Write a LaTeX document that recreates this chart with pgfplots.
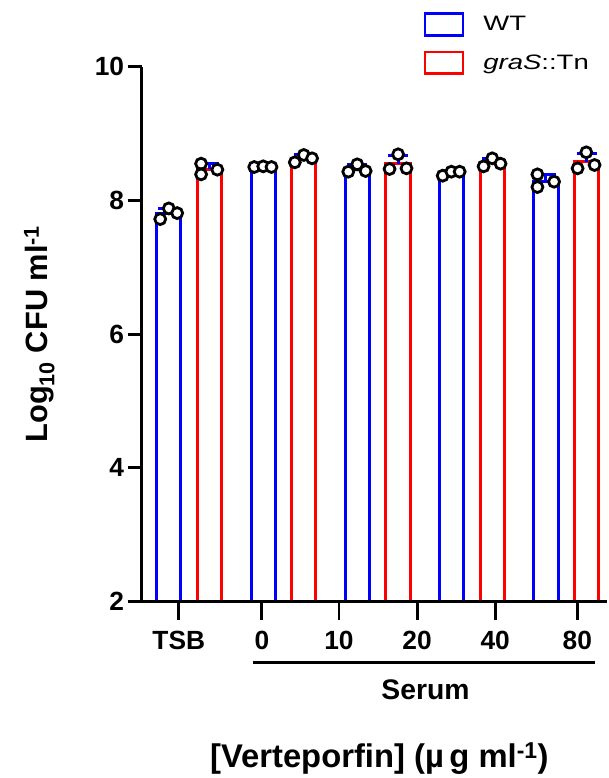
\documentclass[border=0pt]{standalone}
\usepackage{fontspec}
\setmainfont{Liberation Sans}
\usepackage{graphicx}
\usepackage{pgfplots}
\usepackage{pgfplotstable}
\pgfplotsset{compat=1.18}

% bar means (x in axis units, y = log10 CFU/ml, sd = upper error)
\pgfplotstableread{
x y sd
26.8 7.803 0.080
122.0 8.503 0.006
216.3 8.470 0.061
310.8 8.410 0.035
405.5 8.290 0.095
}\wtbars
\pgfplotstableread{
x y sd
67.8 8.467 0.080
162.5 8.627 0.055
257.2 8.547 0.124
351.8 8.563 0.061
446.3 8.577 0.127
}\grasbars
% single replicates
\pgfplotstableread{
x y
18.7 7.72
27.3 7.88
35.7 7.81
113.0 8.50
122.0 8.51
130.3 8.50
207.3 8.43
216.3 8.54
224.7 8.44
302.0 8.37
310.7 8.43
319.0 8.43
397.0 8.39
397.0 8.20
413.7 8.28
}\wtpts
\pgfplotstableread{
x y
59.7 8.55
59.7 8.39
76.0 8.46
153.7 8.57
162.7 8.68
171.0 8.63
248.7 8.47
257.3 8.69
265.7 8.48
343.0 8.51
351.7 8.63
360.0 8.55
437.3 8.48
446.0 8.72
454.3 8.53
}\graspts

\begin{document}
\begin{tikzpicture}
\path (-142bp,-175bp) rectangle (467bp,603bp);
\begin{axis}[
  scale only axis, width=467bp, height=536bp,
  xmin=0, xmax=467, ymin=2, ymax=10,
  axis x line=bottom, axis y line=left,
  axis line style={-, line width=3bp},
  axis on top,
  ytick={2,4,6,8,10},
  xtick={37.3,120.7,198,276.3,354.7,437},
  xticklabels={TSB,0,10,20,40,80},
  tick align=outside,
  major tick length=14bp,
  xtick style={/pgfplots/major tick length=19bp},
  tick style={line width=3bp, black},
  /pgf/number format/assume math mode=true,
  tick label style={font=\bfseries\fontsize{26.5}{26.5}\selectfont},
  xticklabel style={yshift=-12bp},
  ylabel={Log\textsubscript{10} CFU ml\textsuperscript{-1}},
  ylabel style={font=\bfseries\fontsize{31}{31}\selectfont,
    at={(axis description cs:-0.2013,0.5)}, anchor=base},
  xlabel={[Verteporfin] (µ\,g ml\textsuperscript{-1})},
  xlabel style={font=\bfseries\fontsize{33}{33}\selectfont,
    at={(axis description cs:0.5107,-0.3116)}, anchor=base},
  legend style={draw=none, fill=none, inner sep=0pt,
    at={(axis description cs:0.606,1.1026)}, anchor=north west,
    font=\fontsize{21}{24}\selectfont, row sep=14bp,
    nodes={inner sep=0pt},
    /tikz/every odd column/.append style={column sep=19bp}},
  legend cell align=left,
]
\addplot[ybar, bar width=24.3, bar shift=0pt, draw=blue, fill=white, line width=3bp,
  error bars/.cd, y dir=plus, y explicit,
  error bar style={blue, line width=3bp},
  error mark options={blue, line width=3bp, mark size=10bp, rotate=90},
  /pgfplots/legend image code/.code={\draw[blue, fill=white, line width=2.5bp] (0bp,-11bp) rectangle (38bp,11bp);}]
  table[x=x, y=y, y error=sd] {\wtbars};
\addlegendentry{\scalebox{1.32}[1]{WT}}
\addplot[ybar, bar width=24.3, bar shift=0pt, draw=red, fill=white, line width=3bp,
  error bars/.cd, y dir=plus, y explicit,
  error bar style={blue, line width=3bp},
  error mark options={blue, line width=3bp, mark size=10bp, rotate=90},
  /pgfplots/legend image code/.code={\draw[red, fill=white, line width=2.5bp] (0bp,-11bp) rectangle (38bp,11bp);}]
  table[x=x, y=y, y error=sd] {\grasbars};
\addlegendentry{\scalebox{1.32}[1]{\textit{graS}::Tn}}
\addplot[only marks, mark=*, mark size=5.5bp, mark options={fill=white, draw=black, line width=2.8bp}, forget plot]
  table[x=x, y=y] {\wtpts};
\addplot[only marks, mark=*, mark size=5.5bp, mark options={fill=white, draw=black, line width=2.8bp}, forget plot]
  table[x=x, y=y] {\graspts};
\end{axis}
\draw[line width=3bp] (111.3bp,-61.3bp) -- (454.7bp,-61.3bp);
\node[anchor=base, font=\bfseries\fontsize{28.5}{28.5}\selectfont] at (284.7bp,-98.7bp) {Serum};
\end{tikzpicture}
\end{document}
